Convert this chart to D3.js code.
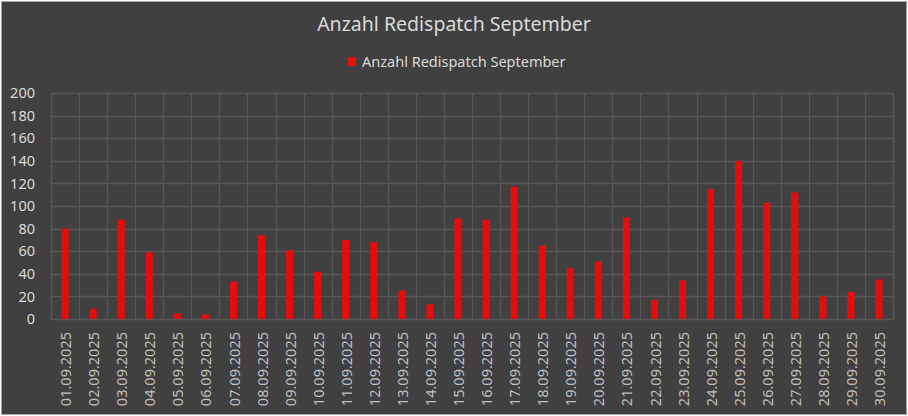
<!DOCTYPE html>
<html>
<head>
<meta charset="utf-8">
<script src="https://cdn.jsdelivr.net/npm/d3@7"></script>
<style>
  body { margin: 0; background: #ffffff; }
  text { font-family: "Noto Sans", sans-serif; }
</style>
</head>
<body>
<div id="chart"></div>
<script>
// data
var title = "Anzahl Redispatch September";
var seriesName = "Anzahl Redispatch September";
var days = ["01.09.2025", "02.09.2025", "03.09.2025", "04.09.2025", "05.09.2025",
  "06.09.2025", "07.09.2025", "08.09.2025", "09.09.2025", "10.09.2025",
  "11.09.2025", "12.09.2025", "13.09.2025", "14.09.2025", "15.09.2025",
  "16.09.2025", "17.09.2025", "18.09.2025", "19.09.2025", "20.09.2025",
  "21.09.2025", "22.09.2025", "23.09.2025", "24.09.2025", "25.09.2025",
  "26.09.2025", "27.09.2025", "28.09.2025", "29.09.2025", "30.09.2025"];
var counts = [80, 9, 88, 59, 5, 4, 33, 74, 61, 42,
  70, 68, 25, 13, 89, 88, 117, 65, 45, 51,
  90, 17, 34, 115, 140, 103, 112, 20, 24, 35];
var yTicks = [0, 20, 40, 60, 80, 100, 120, 140, 160, 180, 200];

var width = 908;
var height = 416;
var margin = { top: 93, right: 15, bottom: 97, left: 51 };
var innerW = width - margin.left - margin.right;
var innerH = height - margin.top - margin.bottom;

var svg = d3.select("#chart")
  .append("svg")
  .attr("width", width)
  .attr("height", height);

// chart background + border
svg.append("rect")
  .attr("x", 1.5)
  .attr("y", 1.5)
  .attr("width", width - 3)
  .attr("height", height - 3)
  .attr("fill", "#404040")
  .attr("stroke", "#a6a6a6")
  .attr("stroke-width", 1);

svg.append("text")
  .attr("x", width / 2)
  .attr("y", 31)
  .attr("text-anchor", "middle")
  .attr("fill", "#d9d9d9")
  .style("font-size", "19.5px")
  .text(title);

// legend
var legend = svg.append("g").attr("transform", "translate(348,61)");
legend.append("rect")
  .attr("x", 0)
  .attr("y", -4)
  .attr("width", 8)
  .attr("height", 9)
  .attr("fill", "#e50c0c");
legend.append("text")
  .attr("x", 14)
  .attr("y", 5.5)
  .attr("fill", "#d9d9d9")
  .style("font-size", "14.5px")
  .text(seriesName);

var chartGroup = svg.append("g")
  .attr("transform", "translate(" + margin.left + "," + margin.top + ")");

var xScale = d3.scaleBand()
  .domain(days)
  .range([0, innerW])
  .paddingInner(0.75)
  .paddingOuter(0.375);

var xBounds = d3.scaleLinear()
  .domain([0, days.length])
  .range([0, innerW]);

var yScale = d3.scaleLinear()
  .domain([0, 200])
  .range([innerH, 0]);

// gridlines
chartGroup.append("g")
  .selectAll("line")
  .data(yTicks)
  .enter()
  .append("line")
  .attr("x1", 0)
  .attr("x2", innerW)
  .attr("y1", function(d) { return Math.round(yScale(d)) + 0.5; })
  .attr("y2", function(d) { return Math.round(yScale(d)) + 0.5; })
  .attr("stroke", "#575757")
  .attr("stroke-width", 1.3);

chartGroup.append("g")
  .selectAll("line")
  .data(d3.range(days.length + 1))
  .enter()
  .append("line")
  .attr("x1", function(d) { return Math.round(xBounds(d)) + 0.5; })
  .attr("x2", function(d) { return Math.round(xBounds(d)) + 0.5; })
  .attr("y1", 0)
  .attr("y2", innerH)
  .attr("stroke", "#575757")
  .attr("stroke-width", 1.3);

// y axis labels
var yAxis = d3.axisLeft(yScale).tickValues(yTicks).tickSize(0).tickPadding(16);
var yG = chartGroup.append("g").attr("class", "y axis").call(yAxis);
yG.select(".domain").remove();
yG.selectAll("text")
  .attr("fill", "#d9d9d9")
  .style("font-size", "14.5px")
  .style("font-family", "'Noto Sans', sans-serif");

// x axis labels
var xAxis = d3.axisBottom(xScale).tickSize(0).tickPadding(0);
var xG = chartGroup.append("g")
  .attr("class", "x axis")
  .attr("transform", "translate(0," + innerH + ")")
  .call(xAxis);
xG.select(".domain").remove();
xG.selectAll("text")
  .attr("fill", "#bfbfbf")
  .style("font-size", "14.5px")
  .style("font-family", "'Noto Sans', sans-serif")
  .attr("text-anchor", "end")
  .attr("dy", "0.35em")
  .attr("transform", "translate(1,13) rotate(-90)")
  .attr("x", 0)
  .attr("y", 0);

// bars
chartGroup.append("g")
  .selectAll("rect")
  .data(counts)
  .enter()
  .append("rect")
  .attr("x", function(d, i) { return xScale(days[i]); })
  .attr("y", function(d) { return yScale(d); })
  .attr("width", xScale.bandwidth())
  .attr("height", function(d) { return innerH - yScale(d); })
  .attr("fill", "#e50c0c");
</script>
</body>
</html>
